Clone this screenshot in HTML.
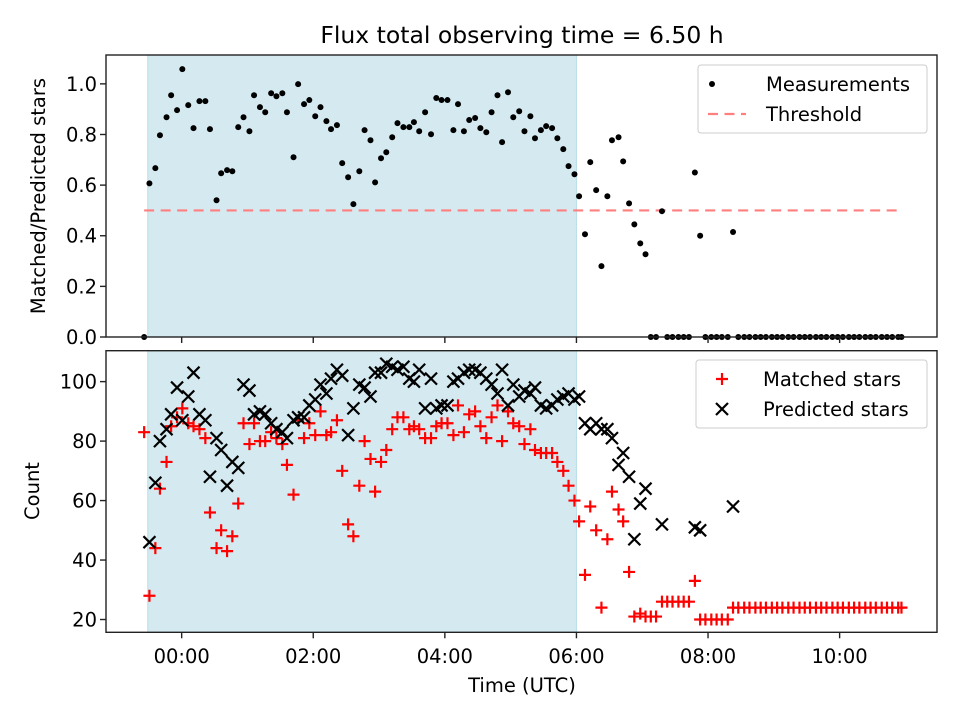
<!DOCTYPE html>
<html><head><meta charset="utf-8"><style>
html,body{margin:0;padding:0;background:#fff;}
svg{display:block;font-family:"DejaVu Sans","Liberation Sans",sans-serif;}
</style></head><body>
<svg id="chart" width="960" height="720" viewBox="0 0 960 720"></svg>
<script>
const times = [-0.57,-0.49,-0.40,-0.33,-0.23,-0.16,-0.07,0.01,0.10,0.18,0.27,0.36,0.43,0.53,0.60,0.69,0.77,0.86,0.94,1.03,1.10,1.19,1.27,1.36,1.44,1.53,1.60,1.70,1.77,1.86,1.94,2.03,2.11,2.20,2.27,2.36,2.44,2.53,2.61,2.70,2.78,2.87,2.94,3.03,3.11,3.20,3.28,
3.37,3.46,3.53,3.61,3.70,3.79,3.87,3.95,4.04,4.13,4.20,4.29,4.37,4.46,4.54,4.63,4.71,4.80,4.87,4.96,5.04,5.13,5.21,5.30,5.37,5.46,5.54,5.63,5.71,5.80,5.88,5.97,6.04,
6.13,6.21,6.30,6.38,6.47,6.54,6.64,6.71,6.80,6.88,6.97,7.05,7.13,7.21,7.30,7.38,7.46,7.55,7.63,7.71,7.80,7.88,7.96,8.05,8.13,8.21,8.30,
8.38,8.46,8.55,8.63,8.72,8.80,8.88,8.97,9.05,9.13,9.22,9.30,9.39,9.47,9.55,9.64,9.72,9.80,9.89,9.97,10.05,10.14,10.22,10.30,10.39,10.47,10.55,10.64,10.72,10.80,10.89,10.94];
const ratio = [0,.607,.667,.797,.868,.955,.896,1.058,.916,.825,.932,.932,.821,.540,.647,.659,.655,.829,.868,.813,.955,.908,.888,.963,.951,.963,.888,.710,.999,.920,.936,.872,.908,.853,.821,.837,.687,.631,.525,.655,.817,.777,.611,.706,.730,.789,.845,
.829,.829,.849,.813,.888,.801,.944,.936,.936,.817,.920,.813,.857,.865,.825,.809,.888,.955,.770,.967,.868,.892,.813,.872,.785,.817,.833,.825,.785,.742,.675,.643,.556,
.406,.691,.580,.280,.556,.777,.789,.694,.528,.445,.370,.327,0,0,.497,0,0,0,0,0,.65,.40,0,0,0,0,0,
.415,0,0,0,0,0,0,0,0,0,0,0,0,0,0,0,0,0,0,0,0,0,0,0,0,0,0,0,0,0,0,0];
const matched = [83,28,44,64,73,85,88,91,86,85,84,81,56,44,50,43,48,59,86,79,86,80,80,83,81,79,72,62,87,81,86,82,90,82,83,87,70,52,48,65,80,74,63,73,77,84,88,
88,84,85,84,81,81,85,86,86,82,92,83,89,90,85,81,88,92,80,90,86,85,79,84,77,76,76,76,73,70,65,60,53,
35,58,50,24,47,63,57,53,36,21,22,21,21,21,26,26,26,26,26,26,33,20,20,20,20,20,20,
24,24,24,24,24,24,24,24,24,24,24,24,24,24,24,24,24,24,24,24,24,24,24,24,24,24,24,24,24,24,24,24];
const predicted = [null,46,66,80,84,89,98,87,95,103,89,87,68,81,77,65,73,71,99,97,89,90,89,86,84,83,81,87,88,88,92,94,99,96,101,104,102,82,91,99,98,95,103,103,106,105,104,
105,101,100,104,91,101,91,92,92,100,101,103,104,104,103,101,99,96,104,92,99,95,97,96,98,92,91,92,94,95,96,94,95,
86,84,86,84,84,81,72,76,68,47,59,64,null,null,52,null,null,null,null,null,51,50,null,null,null,null,null,
58,null,null,null,null,null,null,null,null,null,null,null,null,null,null,null,null,null,null,null,null,null,null,null,null,null,null,null,null,null,null,null];
const threshold = 0.5;
const shadeStart = -0.515, shadeEnd = 6.0;
const xTicks = [0,2,4,6,8,10];
const xTickLabels = ["00:00","02:00","04:00","06:00","08:00","10:00"];
const topTicks = [0,0.2,0.4,0.6,0.8,1.0];
const topTickLabels = ["0.0","0.2","0.4","0.6","0.8","1.0"];
const botTicks = [20,40,60,80,100];
const botTickLabels = ["20","40","60","80","100"];

const NS="http://www.w3.org/2000/svg";
const svg=document.getElementById('chart');
function mk(tag,attrs,parent){const e=document.createElementNS(NS,tag);for(const k in attrs)e.setAttribute(k,attrs[k]);(parent||svg).appendChild(e);return e;}
const L=106,R=937,FS=19.5;
const xS=t=>L+(t+1.15)/(11.48+1.15)*(R-L);
const T1=55,B1=337, yTop=v=>B1-v/1.114*(B1-T1);
const T2=350.7,B2=632.3, yBot=v=>B2-(v-15.7)/(110.4-15.7)*(B2-T2);

function panel(T,B,name){
  const s=mk('rect',{x:xS(shadeStart),y:T,width:xS(shadeEnd)-xS(shadeStart),height:B-T,fill:'#d4eaf0',stroke:'#b9dde8','stroke-width':1});
  
  
}
function frame(T,B,name){
  const f=mk('rect',{x:L,y:T,width:R-L,height:B-T,fill:'none',stroke:'#222','stroke-width':1.4});
  
  
  xTicks.forEach((t,i)=>{
    const tk=mk('line',{x1:xS(t),x2:xS(t),y1:B,y2:B+6,stroke:'#222','stroke-width':1.4});
    
    
  });
}
panel(T1,B1,'top');
panel(T2,B2,'bottom');

const th=mk('line',{x1:xS(times[0]),x2:xS(times[times.length-1]),y1:yTop(threshold),y2:yTop(threshold),stroke:'#ff7f7f','stroke-width':2.2,'stroke-dasharray':'10,6.5'});



times.forEach((t,i)=>{
  const c=mk('circle',{cx:xS(t),cy:yTop(ratio[i]),r:3,fill:'#000'});
  
  
});
times.forEach((t,i)=>{
  const x=xS(t),y=yBot(matched[i]),a=6;
  const p=mk('path',{d:`M${x-a},${y}H${x+a}M${x},${y-a}V${y+a}`,stroke:'#f00','stroke-width':2.2,fill:'none'});
  
  
});
times.forEach((t,i)=>{
  if(predicted[i]===null)return;
  const x=xS(t),y=yBot(predicted[i]),a=6;
  const p=mk('path',{d:`M${x-a},${y-a}L${x+a},${y+a}M${x-a},${y+a}L${x+a},${y-a}`,stroke:'#000','stroke-width':2.2,fill:'none'});
  
  
});

frame(T1,B1,'top');
frame(T2,B2,'bottom');

topTicks.forEach((v,i)=>{
  const tk=mk('line',{x1:L-6,x2:L,y1:yTop(v),y2:yTop(v),stroke:'#222','stroke-width':1.4});
  
  
  const tx=mk('text',{x:L-9,y:yTop(v)+7,'text-anchor':'end','font-size':FS,fill:'#000'});
  tx.textContent=topTickLabels[i];
  
  
});
botTicks.forEach((v,i)=>{
  const tk=mk('line',{x1:L-6,x2:L,y1:yBot(v),y2:yBot(v),stroke:'#222','stroke-width':1.4});
  
  
  const tx=mk('text',{x:L-9,y:yBot(v)+7,'text-anchor':'end','font-size':FS,fill:'#000'});
  tx.textContent=botTickLabels[i];
  
  
});
xTicks.forEach((t,i)=>{
  const tx=mk('text',{x:xS(t),y:663,'text-anchor':'middle','font-size':FS,fill:'#000'});
  tx.textContent=xTickLabels[i];
  
  
});
</script>
<script>
(function(){
const NS="http://www.w3.org/2000/svg";const svg=document.getElementById('chart');
function add(html){const g=document.createElementNS(NS,'g');g.innerHTML=html;svg.appendChild(g);return g;}
add(`
<text x="522" y="43" text-anchor="middle" font-size="23.5">Flux total observing time = 6.50 h</text>
<text transform="translate(45,196) rotate(-90)" text-anchor="middle" font-size="19.5">Matched/Predicted stars</text>
<text transform="translate(39,491) rotate(-90)" text-anchor="middle" font-size="19.5">Count</text>
<text x="522" y="692" text-anchor="middle" font-size="19.5">Time (UTC)</text>
<g>
<rect x="698" y="65" width="229" height="68" rx="3" fill="#fff" fill-opacity="0.85" stroke="#ccc"/>
<circle cx="712" cy="84" r="3" fill="#000"/>
<text x="766" y="91" font-size="19.5">Measurements</text>
<line x1="708" x2="746" y1="114" y2="114" stroke="#ff7f7f" stroke-width="2.2" stroke-dasharray="10,6.5"/>
<text x="766" y="121" font-size="19.5">Threshold</text>
</g>
<g>
<rect x="696" y="360" width="231" height="68" rx="3" fill="#fff" fill-opacity="0.85" stroke="#ccc"/>
<path d="M716,379H728M722,373V385" stroke="#f00" stroke-width="2.2"/>
<text x="763" y="386" font-size="19.5">Matched stars</text>
<path d="M716,403L728,415M716,415L728,403" stroke="#000" stroke-width="2.2"/>
<text x="763" y="416" font-size="19.5">Predicted stars</text>
</g>`);
})();
</script>
</body></html>
